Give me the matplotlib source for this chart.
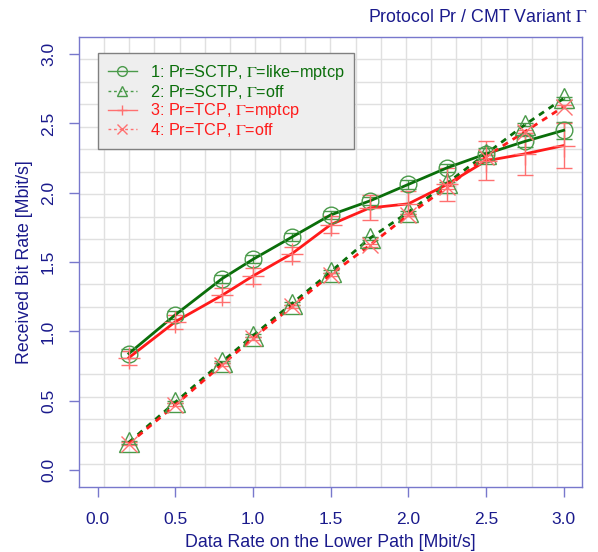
import matplotlib
matplotlib.use("Agg")
import matplotlib.pyplot as plt
from matplotlib.lines import Line2D
import numpy as np

plt.rcParams['font.family'] = ['Liberation Sans', 'DejaVu Sans']
plt.rcParams['mathtext.fontset'] = 'stix'

rate = [0.2, 0.5, 0.8, 1.0, 1.25, 1.5, 1.75, 2.0, 2.25, 2.5, 2.75, 3.0]

sctp_like = [0.84, 1.12, 1.38, 1.52, 1.68, 1.84, 1.94, 2.06, 2.18, 2.28, 2.37, 2.45]
sctp_like_err = [0.03, 0.03, 0.03, 0.03, 0.03, 0.03, 0.03, 0.03, 0.03, 0.04, 0.04, 0.06]

sctp_off = [0.20, 0.49, 0.78, 0.97, 1.20, 1.43, 1.67, 1.86, 2.07, 2.28, 2.49, 2.68]
sctp_off_err = [0.01, 0.01, 0.01, 0.01, 0.01, 0.01, 0.01, 0.01, 0.01, 0.01, 0.01, 0.01]

tcp_mp = [0.81, 1.07, 1.26, 1.40, 1.56, 1.77, 1.89, 1.92, 2.06, 2.23, 2.28, 2.34]
tcp_mp_err = [0.05, 0.05, 0.05, 0.06, 0.05, 0.06, 0.09, 0.09, 0.12, 0.14, 0.15, 0.16]

tcp_off = [0.19, 0.47, 0.76, 0.95, 1.18, 1.41, 1.62, 1.84, 2.04, 2.26, 2.44, 2.62]
tcp_off_err = [0.01, 0.01, 0.01, 0.01, 0.01, 0.01, 0.01, 0.01, 0.01, 0.01, 0.01, 0.01]

labels = [r"1: Pr=SCTP, $\Gamma$=like−mptcp",
          r"2: Pr=SCTP, $\Gamma$=off",
          r"3: Pr=TCP, $\Gamma$=mptcp",
          r"4: Pr=TCP, $\Gamma$=off"]

green = "#0a6e0a"
green_m = "#4a9a4a"
red = "#ff1a1a"
red_m = "#ff7070"
axcol = "#7878cc"
txtcol = "#1a1a8c"

fig = plt.figure(figsize=(5.98, 5.52), dpi=100)
ax = fig.add_axes([0.1321, 0.1183, 0.8411, 0.8147])

xlim = (-0.121, 3.118)
ylim = (-0.12, 3.123)
# 20 x 20 background grid spanning the whole plot area
for f in np.linspace(0, 1, 21)[1:-1]:
    ax.axvline(xlim[0] + f * (xlim[1] - xlim[0]), color="#e0e0e0", lw=1.0, zorder=0)
    ax.axhline(ylim[0] + f * (ylim[1] - ylim[0]), color="#e0e0e0", lw=1.0, zorder=0)

series = [
    (sctp_like, sctp_like_err, green, green_m, "o", "-", 12),
    (sctp_off, sctp_off_err, green, green_m, "^", (0, (2.2, 2.0)), 14),
    (tcp_mp, tcp_mp_err, red, red_m, "+", "-", 16),
    (tcp_off, tcp_off_err, red, red_m, "x", (0, (2.2, 2.0)), 12),
]

handles = []
for (vals, err, lc, mc, mk, ls, ms), lab in zip(series, labels):
    ax.errorbar(rate, vals, yerr=err, fmt="none", ecolor=mc, elinewidth=1.0,
                capsize=6, capthick=1.0, zorder=2)
    ax.plot(rate, vals, color=lc, lw=2.0, ls=ls, zorder=3)
    ax.plot(rate, vals, ls="none", marker=mk, ms=ms, mfc="none", mec=mc, mew=1.0, zorder=4)
    handles.append(Line2D([0], [0], color=mc, lw=1.0, ls=ls if ls == "-" else (0, (2, 2)),
                          marker=mk, ms=7, mfc="none", mec=mc, label=lab))

ax.set_xlim(*xlim)
ax.set_ylim(*ylim)
ax.set_xticks([0.0, 0.5, 1.0, 1.5, 2.0, 2.5, 3.0])
ax.set_yticks([0.0, 0.5, 1.0, 1.5, 2.0, 2.5, 3.0])
ax.xaxis.set_major_formatter(matplotlib.ticker.FormatStrFormatter("%.1f"))
ax.yaxis.set_major_formatter(matplotlib.ticker.FormatStrFormatter("%.1f"))
ax.tick_params(direction="out", length=7.5, width=1.0, color=axcol, labelcolor=txtcol,
               labelsize=12.5)
ax.tick_params(axis="x", pad=11)
ax.tick_params(axis="y", pad=9)
for lab in ax.get_yticklabels():
    lab.set_rotation(90)
    lab.set_va("center")
for sp in ax.spines.values():
    sp.set_color(axcol)
    sp.set_linewidth(1.0)

ax.set_xlabel("Data Rate on the Lower Path [Mbit/s]", color=txtcol, fontsize=12.8, labelpad=4.5)
ax.set_ylabel("Received Bit Rate [Mbit/s]", color=txtcol, fontsize=12.8, labelpad=6)
fig.text(0.982, 0.969, r"Protocol Pr / CMT Variant $\Gamma$", color=txtcol, fontsize=12.8,
         ha="right", va="center")

leg = ax.legend(handles=handles, loc="upper left", bbox_to_anchor=(0.0378, 0.9644),
                borderaxespad=0, fontsize=11.7, frameon=True, fancybox=False,
                handlelength=1.8, borderpad=0.6, labelspacing=0.05, handletextpad=0.8)
leg.get_frame().set_facecolor("#eeeeee")
leg.get_frame().set_edgecolor("#808080")
leg.get_frame().set_alpha(1.0)
for t, c in zip(leg.get_texts(), [green, green, red, red]):
    t.set_color(c)

fig.savefig("out.png", dpi=100)
